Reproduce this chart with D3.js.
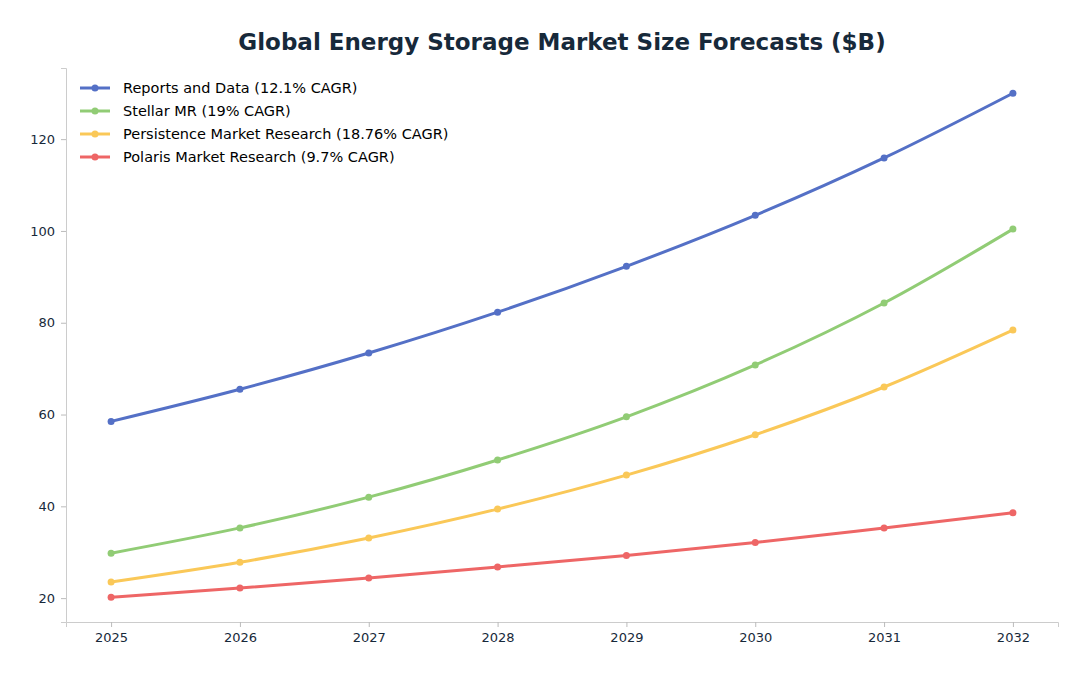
<!DOCTYPE html>
<html><head><meta charset="utf-8">
<script src="https://cdn.jsdelivr.net/npm/d3@7"></script>
<style>body{margin:0;background:#fff;font-family:"DejaVu Sans",sans-serif}</style>
</head><body><div id="chart"></div>
<script>
const years = [2025, 2026, 2027, 2028, 2029, 2030, 2031, 2032];
const seriesNames = ["Reports and Data (12.1% CAGR)", "Stellar MR (19% CAGR)", "Persistence Market Research (18.76% CAGR)", "Polaris Market Research (9.7% CAGR)"];
const seriesColors = ["#5470c6", "#91cc75", "#fac858", "#ee6666"];
const reportsData = [58.5, 65.5, 73.4, 82.3, 92.3, 103.4, 115.9, 130.0];
const stellarMR = [29.8, 35.3, 42.0, 50.1, 59.5, 70.8, 84.3, 100.4];
const persistence = [23.5, 27.8, 33.1, 39.4, 46.8, 55.6, 66.0, 78.4];
const polaris = [20.2, 22.2, 24.4, 26.8, 29.3, 32.1, 35.3, 38.6];
const yTicks = [20, 40, 60, 80, 100, 120];

const W = 1088, H = 676;
const svg = d3.select("#chart").append("svg").attr("width", W).attr("height", H);
const x = d3.scaleLinear().domain([2024.65, 2032.35]).range([66, 1058]);
const y = d3.scaleLinear().domain([14.8, 135.5]).range([622, 68]);

svg.append("text").attr("x", 562).attr("y", 50).attr("text-anchor", "middle")
  .attr("font-size", 23).attr("font-weight", "bold").attr("fill", "#17293a")
  .text("Global Energy Storage Market Size Forecasts ($B)");

const xAxis = svg.append("g").attr("transform", "translate(0,622)")
  .call(d3.axisBottom(x).tickValues(years).tickFormat(d3.format("d")).tickSize(5).tickPadding(6));
const yAxis = svg.append("g").attr("transform", "translate(66,0)")
  .call(d3.axisLeft(y).tickValues(yTicks).tickSize(5).tickPadding(6));
[xAxis, yAxis].forEach(a => {
  a.select(".domain").attr("stroke", "#ccc");
  a.selectAll(".tick line").attr("stroke", "#bbb");
  a.selectAll("text").attr("font-size", 13).attr("fill", "#17293a").attr("font-family", "DejaVu Sans");
});

const all = [reportsData, stellarMR, persistence, polaris];
const line = d3.line().x((d, i) => x(years[i])).y(d => y(d)).curve(d3.curveMonotoneX);
all.slice().reverse().forEach((vals, ri) => {
  const i = all.length - 1 - ri;
  const g = svg.append("g");
  g.append("path").datum(vals).attr("d", line).attr("fill", "none")
    .attr("stroke", seriesColors[i]).attr("stroke-width", 3);
  g.selectAll("circle").data(vals).join("circle")
    .attr("cx", (d, j) => x(years[j])).attr("cy", d => y(d)).attr("r", 3.5)
    .attr("fill", seriesColors[i]);
});

const leg = svg.append("g");
seriesNames.forEach((n, i) => {
  const ly = 88 + i * 23;
  leg.append("line").attr("x1", 80).attr("x2", 110).attr("y1", ly).attr("y2", ly)
    .attr("stroke", seriesColors[i]).attr("stroke-width", 3);
  leg.append("circle").attr("cx", 95).attr("cy", ly).attr("r", 3.5).attr("fill", seriesColors[i]);
  leg.append("text").attr("x", 123).attr("y", ly + 5).attr("font-size", 14.5).attr("fill", "#000").text(n);
});
</script></body></html>
